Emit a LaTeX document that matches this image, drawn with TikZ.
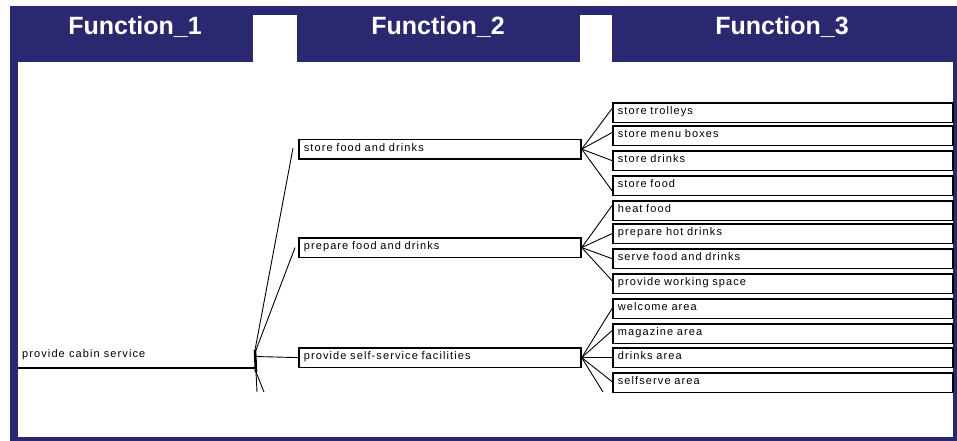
\documentclass[tikz,border=0pt]{standalone}
\usepackage{fontspec}
\setmainfont{Liberation Sans}
\newfontfamily\boxfont[LetterSpace=10]{Liberation Sans}
\usetikzlibrary{calc}
\definecolor{navy}{RGB}{41,40,112}

\begin{document}
\begin{tikzpicture}[x=1pt,y=-1pt,
  head/.style={text=white, inner sep=0pt, font=\bfseries\fontsize{25}{28}\selectfont},
  label/.style={inner xsep=2pt, inner ysep=0pt, anchor=west, font=\boxfont\fontsize{11}{12}\selectfont},
  twobox/.style={draw=black, line width=1.7pt, rectangle, anchor=north west,
    minimum width=282pt, minimum height=19.5pt, text width=272pt, inner xsep=5pt,
    inner ysep=0pt, align=left, text height=8pt, text depth=4pt,
    font=\boxfont\fontsize{11}{12}\selectfont},
  threebox/.style={twobox, minimum width=340pt, text width=330pt},
  link/.style={draw=black, line width=0.9pt},
  stem/.style={draw=black, line width=1.6pt}
]
% frame and header tabs
\fill[white] (0,0) rectangle (957,441);
\useasboundingbox (0,0) rectangle (957,441);
\fill[navy] (10,6) rectangle (957,441);
\fill[white] (18,62) rectangle (953,437);
\fill[white] (253,15) rectangle (297,62);
\fill[white] (580,15) rectangle (612,62);

\node[head] (h1) at (135,27) {Function\_1};
\node[head] (h2) at (438,27) {Function\_2};
\node[head] (h3) at (782,27) {Function\_3};

% level 1
\node[label] (root) at (20,355) {provide cabin service};
\coordinate (rootstart) at (18,368);
\coordinate (hub) at (256,368);
\coordinate (hubtop) at (255,350);
\coordinate (hubmid) at (256,356.5);
\coordinate (hubbot) at (256,372);
\draw[stem] (rootstart) -- (hub);
\draw[black, line width=2.6pt] (hubtop) -- (hubbot);

% level 2
\node[twobox] (sfd) at (298,138.5) {store food and drinks};
\node[twobox] (pfd) at (298,237) {prepare food and drinks};
\node[twobox] (pss) at (298,347) {provide self-service facilities};

% level 3
\node[threebox] (t1) at (612,102) {store trolleys};
\node[threebox] (t2) at (612,125) {store menu boxes};
\node[threebox] (t3) at (612,150) {store drinks};
\node[threebox] (t4) at (612,175) {store food};
\node[threebox] (t5) at (612,200) {heat food};
\node[threebox] (t6) at (612,223) {prepare hot drinks};
\node[threebox] (t7) at (612,248) {serve food and drinks};
\node[threebox] (t8) at (612,273) {provide working space};
\node[threebox] (t9) at (612,298) {welcome area};
\node[threebox] (t10) at (612,323) {magazine area};
\node[threebox] (t11) at (612,347) {drinks area};
\node[threebox] (t12) at (612,372) {selfserve area};

% branches from the hub
\draw[link] (hubtop) -- ($(sfd.west)+(-5,-1)$);
\draw[link] ($(hubtop)+(1,0)$) -- ($(pfd.west)+(-3,0)$);
\draw[link] (hubmid) -- (pss.west);
\coordinate (down1) at (257,392);
\coordinate (down2) at (264,392);
\draw[link] (hubbot) -- (down1);
\draw[link] (hubbot) -- (down2);

% fans to level 3
\foreach \t/\d in {t1/-4, t2/-3, t3/0, t4/5}
  \draw[link] (sfd.east) -- ($(\t.west)+(0,\d)$);
\foreach \t/\d in {t5/-5, t6/0, t7/0, t8/-3}
  \draw[link] (pfd.east) -- ($(\t.west)+(0,\d)$);
\foreach \t/\d in {t9/0, t10/-3, t11/0, t12/-1}
  \draw[link] (pss.east) -- ($(\t.west)+(0,\d)$);
\coordinate (down3) at (603,392);
\draw[link] (pss.east) -- (down3);
\end{tikzpicture}
\end{document}
